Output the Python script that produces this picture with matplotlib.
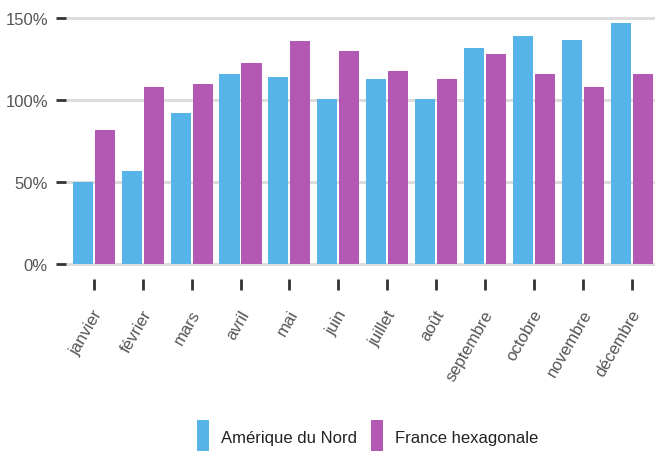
import matplotlib.pyplot as plt
import matplotlib.transforms as mtransforms
import numpy as np

mois = ['janvier', 'février', 'mars', 'avril', 'mai', 'juin', 'juillet',
        'août', 'septembre', 'octobre', 'novembre', 'décembre']
amerique = [50, 57, 92, 116, 114, 101, 113, 101, 132, 139, 137, 147]
france = [82, 108, 110, 123, 136, 130, 118, 113, 128, 116, 108, 116]
yticks = [0, 50, 100, 150]
ylabels = ['0%', '50%', '100%', '150%']

plt.rcParams['font.family'] = ['Liberation Sans', 'DejaVu Sans']

fig = plt.figure(figsize=(6.59, 4.52), dpi=100)
ax = fig.add_axes([66/659, 1-267.5/452, 589/659, (267.5-16)/452])

x = np.arange(len(mois))
w = 0.41
ax.bar(x - 0.225, amerique, w, color='#56B4E9', label='Amérique du Nord', zorder=3)
ax.bar(x + 0.225, france, w, color='#B359B4', label='France hexagonale', zorder=3)

ax.set_xlim(-0.57, 11.48)
ax.set_ylim(-1.5, 152)
ax.set_yticks(yticks)
ax.set_yticklabels(ylabels, fontsize=12, color='#555555')
ax.yaxis.grid(True, color='#dddddd', linewidth=2.2, zorder=0)
ax.tick_params(axis='y', length=7, width=2, color='#333333', pad=6)

for s in ax.spines.values():
    s.set_visible(False)
ax.spines['bottom'].set_position(('outward', 9))

ax.set_xticks(x)
ax.set_xticklabels(mois, rotation=60, ha='right', va='center',
                   rotation_mode='anchor', fontsize=12, color='#555555')
ax.tick_params(axis='x', length=8, width=2, color='#333333', pad=12)
# move labels a little right and down
shift = mtransforms.ScaledTranslation(5/100, -4/100, fig.dpi_scale_trans)
for lab in ax.get_xticklabels():
    lab.set_transform(lab.get_transform() + shift)

leg = fig.legend(loc='center', bbox_to_anchor=(0.558, 1-438/452), ncol=2,
                 frameon=False, fontsize=12, handlelength=0.72, handleheight=2.75,
                 columnspacing=0.8, handletextpad=0.72)
for t in leg.get_texts():
    t.set_color('#222222')

fig.savefig('out.png', dpi=100)
